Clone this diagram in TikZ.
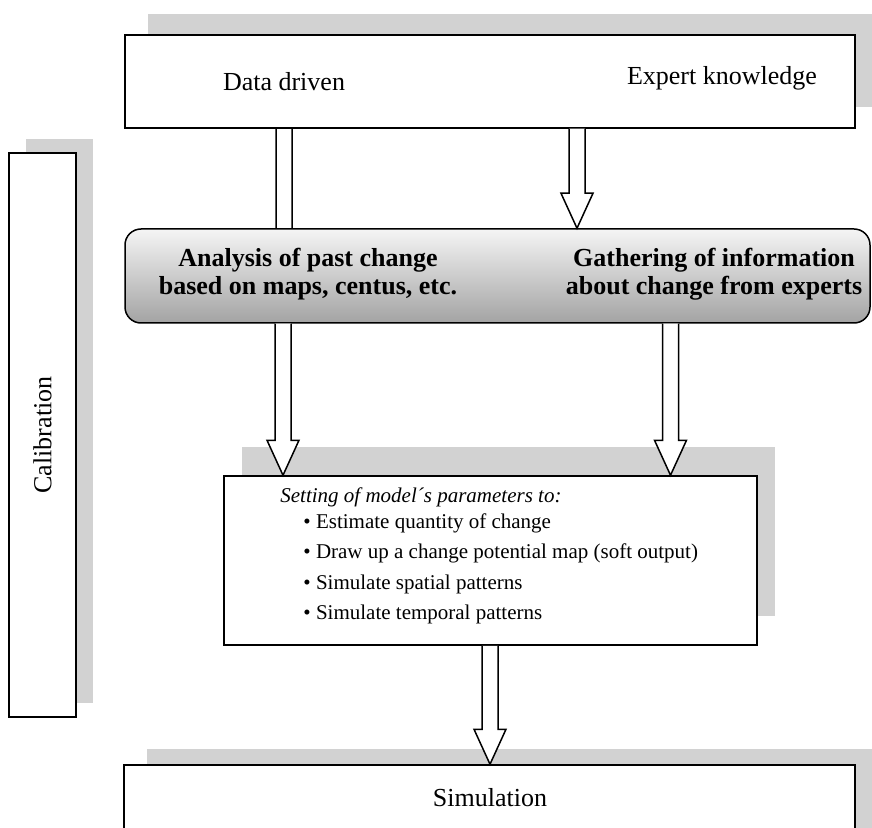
\documentclass[tikz,border=0pt]{standalone}
\usepackage{fontspec}
\setmainfont{Liberation Serif}
\usetikzlibrary{positioning, calc, shadows, backgrounds}

% hollow block arrow: from anchor, to anchor, x position
\newcommand{\fatarrow}[3]{%
  \coordinate (fa-s) at (#1 -| #3,0);
  \coordinate (fa-e) at (#2 -| #3,0);
  \draw[hollow] ([xshift=-4pt]fa-s) -- ([xshift=-4pt,yshift=17.5pt]fa-e)
    -- ([xshift=-8pt,yshift=17.5pt]fa-e) -- (fa-e)
    -- ([xshift=8pt,yshift=17.5pt]fa-e) -- ([xshift=4pt,yshift=17.5pt]fa-e)
    -- ([xshift=4pt]fa-s);}

\begin{document}
\begin{tikzpicture}[
    x=0.5pt, y=-0.5pt,
    every node/.style={inner sep=0pt},
    panel/.style={draw=black, line width=0.75pt, fill=white},
    shadowed/.style 2 args={general shadow={fill=gray!35, draw=none, shadow xshift=#1, shadow yshift=#2}},
    hollow/.style={draw=black, line width=0.75pt, fill=white},
    plain/.style={font=\fontsize{13}{15}\selectfont},
    strong/.style={font=\fontsize{13}{14}\selectfont\bfseries, align=center},
    item/.style={font=\fontsize{10.5}{12.5}\selectfont, anchor=west}
]
   \useasboundingbox (0,0) rectangle (872,828);
   \clip (0,0) rectangle (872,828);

   % Boxes
   \node[panel, shadowed={11.5pt}{10.5pt}, minimum width=365pt, minimum height=46.5pt] (top) at (490,81.5) {};
   \node[panel, shadowed={8.5pt}{7pt}, minimum width=33.5pt, minimum height=282pt] (calib) at (42.5,435) {};
   \node[draw=black, line width=0.75pt, rounded corners=8pt, top color=gray!8, bottom color=gray!72,
         minimum width=372.5pt, minimum height=47pt] (tasks) at (497.5,276) {};
   \node[panel, shadowed={9pt}{14.5pt}, minimum width=266.5pt, minimum height=84.5pt] (params) at (490.5,560.5) {};
   \node[panel, shadowed={11.5pt}{8pt}, minimum width=365.5pt, minimum height=50pt] (sim) at (489.5,815) {};

   % Labels
   \node[plain] (dd) at (284,82) {Data driven};
   \node[plain] (ek) at (722,78) {Expert knowledge};
   \node[plain, rotate=90] (caltext) at (calib) {Calibration};
   \node[strong] (analysis) at (308,274) {Analysis of past change\\based on maps, centus, etc.};
   \node[strong] (gather) at (714,274) {Gathering of information\\about change from experts};
   \node[item] (setting) at (280,497) {\itshape Setting of model´s parameters to:};
   \node[item] (b1) at (303,523) {\textbullet\ Estimate quantity of change};
   \node[item] (b2) at (303,553) {\textbullet\ Draw up a change potential map (soft output)};
   \node[item] (b3) at (303,584) {\textbullet\ Simulate spatial patterns};
   \node[item] (b4) at (303,614) {\textbullet\ Simulate temporal patterns};
   \node[item] (dot) at (495,662) {.};
   \node[plain] (simtext) at (490,798) {Simulation};

   % Arrows
   \begin{scope}[on background layer]
     \fatarrow{top.south}{tasks.center}{284}
   \end{scope}
   \fatarrow{top.south}{tasks.north}{577}
   \fatarrow{tasks.south}{params.north}{283}
   \fatarrow{tasks.south}{params.north}{670.5}
   \fatarrow{params.south}{sim.north}{490}
\end{tikzpicture}
\end{document}
